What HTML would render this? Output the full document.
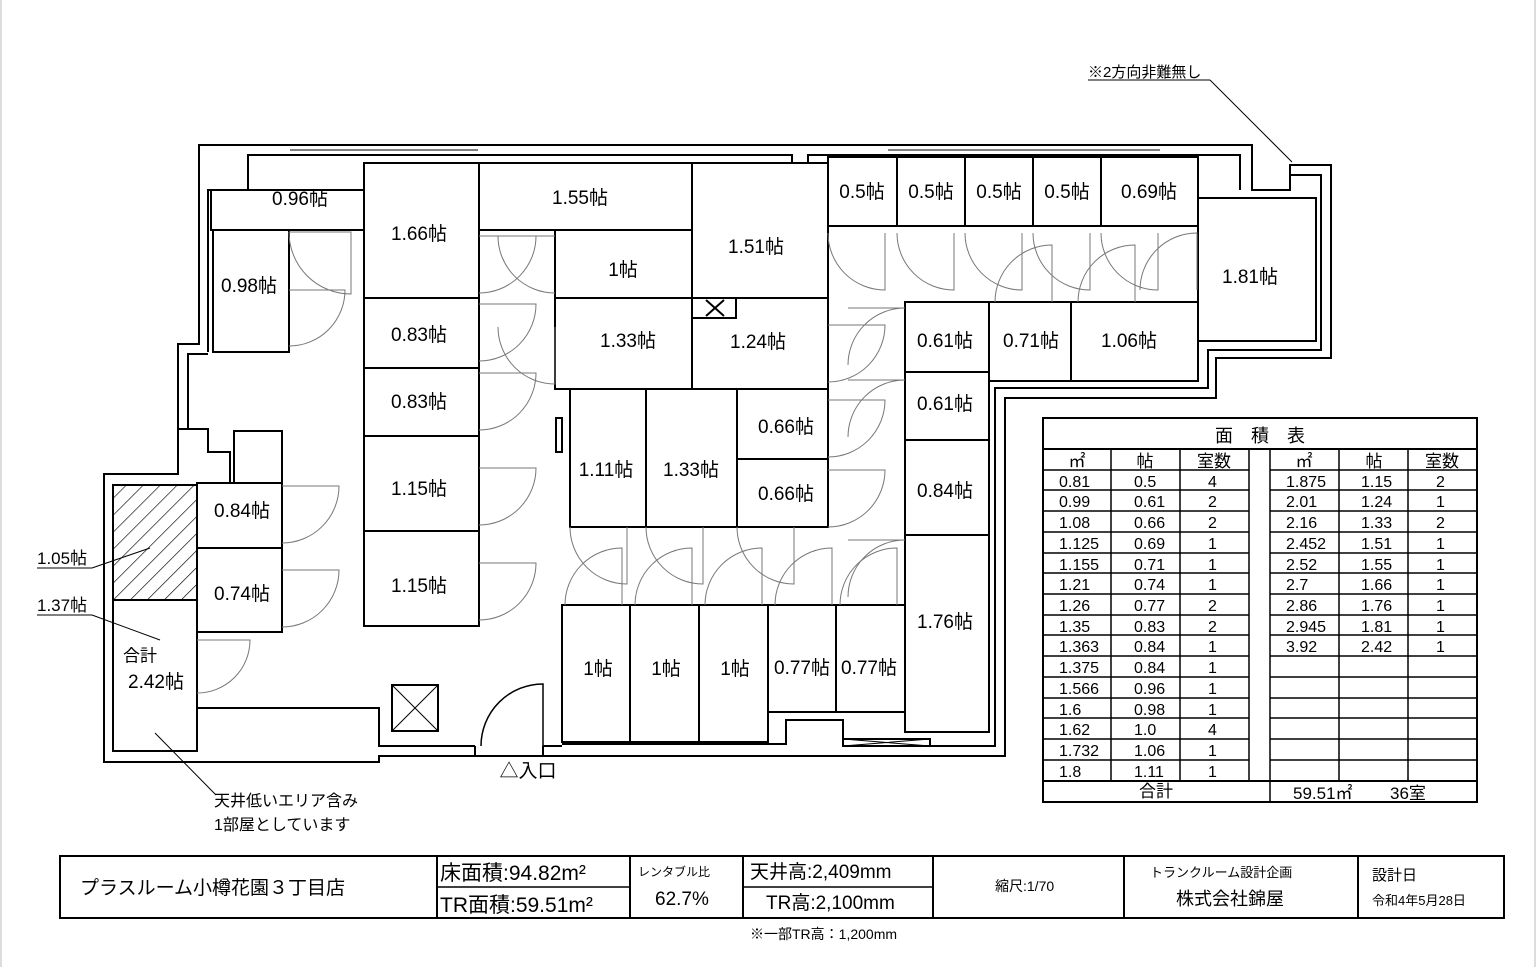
<!DOCTYPE html>
<html><head><meta charset="utf-8"><style>
html,body{margin:0;padding:0;background:#fff;}
svg{display:block;}
text{font-family:"Liberation Sans","Noto Sans CJK JP",sans-serif;fill:#000;}
.r{fill:#fff;stroke:#000;stroke-width:2;}
.w{fill:none;stroke:#000;stroke-width:2;}
.d{fill:none;stroke:#777;stroke-width:1;}
.t{font-size:19px;text-anchor:middle;dominant-baseline:middle;}
.s{font-size:16px;}
</style></head><body>
<svg width="1536" height="967" viewBox="0 0 1536 967" xmlns="http://www.w3.org/2000/svg">
<rect x="0" y="0" width="1536" height="967" fill="#fff"/>
<line x1="1" y1="0" x2="1" y2="967" stroke="#bbb"/>
<line x1="1535" y1="0" x2="1535" y2="967" stroke="#bbb"/>

<!-- outer walls -->
<path class="w" d="M199,145 L1252,145 L1252,190 L1290,190 L1290,165 L1331,165 L1331,358 L1216,358 L1216,398 L1005,398 L1005,756 L379,756 L379,762 L104,762 L104,474 L178,474 L178,344 L199,344 Z"/>
<path class="w" d="M208,352 L208,190 L248,190 L248,155 L792,155 L792,190 L808,190 L808,155 L1240,155 L1240,190"/>
<path class="w" d="M1290,175 L1321,175 L1321,350 L1208,350 L1208,388 L995,388 L995,746 L843,746 L843,720 L786,720 L786,744 L562,744"/>
<path class="w" d="M208,354 L188,354 L188,429"/>
<path class="w" d="M178,429 L208,429 L208,452 L230,452 L230,484 L197,484"/>
<path class="w" d="M234,488 L234,431 L282,431 L282,483"/>
<path class="w" d="M197,708 L379,708 L379,746 L475,746 M543,746 L562,746"/>
<path class="w" d="M475,746 L475,756 M543,746 L543,756" stroke-width="1.5"/>
<line x1="290" y1="150" x2="478" y2="150" stroke="#000"/>
<line x1="888" y1="150" x2="1160" y2="150" stroke="#000"/>

<!-- rooms -->
<rect class="r" x="211" y="190" width="153" height="40"/>
<rect class="r" x="213" y="230" width="76" height="122"/>
<rect class="r" x="364" y="163" width="115" height="135"/>
<rect class="r" x="479" y="163" width="213" height="67"/>
<rect class="r" x="555" y="230" width="137" height="68"/>
<rect class="r" x="692" y="163" width="136" height="135"/>
<rect class="r" x="364" y="298" width="115" height="70"/>
<rect class="r" x="364" y="368" width="115" height="68"/>
<rect class="r" x="364" y="436" width="115" height="95"/>
<rect class="r" x="364" y="531" width="115" height="95"/>
<rect class="r" x="555" y="298" width="137" height="91"/>
<rect class="r" x="692" y="298" width="136" height="91"/>
<rect class="r" x="692" y="298" width="44" height="20"/>
<path class="w" d="M706,300 L724,316 M724,300 L706,316" stroke-width="1"/>
<rect class="r" x="570" y="389" width="76" height="138"/>
<rect class="r" x="646" y="389" width="91" height="138"/>
<rect class="r" x="737" y="389" width="91" height="70"/>
<rect class="r" x="737" y="459" width="91" height="68"/>
<rect class="r" x="556" y="418" width="6" height="34"/>
<rect class="r" x="828" y="157" width="69" height="69"/>
<rect class="r" x="897" y="157" width="68" height="69"/>
<rect class="r" x="965" y="157" width="68" height="69"/>
<rect class="r" x="1033" y="157" width="68" height="69"/>
<rect class="r" x="1101" y="157" width="97" height="69"/>
<rect class="r" x="1198" y="198" width="118" height="143"/>
<rect class="r" x="905" y="302" width="84" height="70"/>
<rect class="r" x="989" y="302" width="82" height="79"/>
<rect class="r" x="1071" y="302" width="127" height="79"/>
<rect class="r" x="905" y="372" width="84" height="68"/>
<rect class="r" x="905" y="440" width="84" height="95"/>
<rect class="r" x="905" y="535" width="84" height="197"/>
<rect class="r" x="562" y="605" width="68" height="137"/>
<rect class="r" x="630" y="605" width="69" height="137"/>
<rect class="r" x="699" y="605" width="69" height="137"/>
<rect class="r" x="768" y="605" width="68" height="107"/>
<rect class="r" x="836" y="605" width="69" height="107"/>
<rect class="r" x="197" y="483" width="85" height="65"/>
<rect class="r" x="197" y="548" width="85" height="84"/>
<rect class="r" x="113" y="600" width="84" height="151"/>
<defs><pattern id="h" width="12" height="12" patternUnits="userSpaceOnUse" patternTransform="rotate(45)"><line x1="0" y1="0" x2="0" y2="12" stroke="#000" stroke-width="1.3"/></pattern></defs>
<rect x="113" y="485" width="84" height="115" fill="url(#h)" stroke="#000" stroke-width="2"/>
<rect class="r" x="392" y="685" width="46" height="46"/>
<path d="M392,685 L438,731 M438,685 L392,731" stroke="#000" stroke-width="1"/>
<rect class="r" x="843" y="739" width="87" height="7"/>
<path d="M843,739 L930,746 M930,739 L843,746" stroke="#000" stroke-width="1"/>

<!-- doors -->
<g class="d">
<path d="M289,232 L351,232 L351,294 A62,62 0 0 1 289,232"/>
<path d="M289,290 L345,290 A56,56 0 0 1 289,346"/>
<path d="M479,293 A57,57 0 0 0 536,236 L479,236"/>
<path d="M555,293 A57,57 0 0 1 498,236 L555,236"/>
<path d="M479,304 L536,304 A57,57 0 0 1 479,361"/>
<path d="M479,373 L536,373 A57,57 0 0 1 479,430"/>
<path d="M479,468 L536,468 A57,57 0 0 1 479,525"/>
<path d="M479,563 L536,563 A57,57 0 0 1 479,620"/>
<path d="M498,327 A57,57 0 0 0 555,384 L555,327"/>
<path d="M282,486 L339,486 A57,57 0 0 1 282,543"/>
<path d="M282,570 L339,570 A57,57 0 0 1 282,627"/>
<path d="M197,640 L250,640 A53,53 0 0 1 197,693"/>
<path d="M828,233 A57,57 0 0 0 885,290 L885,233"/>
<path d="M897,233 A57,57 0 0 0 954,290 L954,233"/>
<path d="M965,233 A57,57 0 0 0 1022,290 L1022,233"/>
<path d="M1033,233 A57,57 0 0 0 1090,290 L1090,233"/>
<path d="M1101,233 A57,57 0 0 0 1158,290 L1158,233"/>
<path d="M995,302 A57,57 0 0 1 1052,245 L1052,302"/>
<path d="M1078,302 A57,57 0 0 1 1135,245 L1135,302"/>
<path d="M1140,290 A57,57 0 0 1 1197,233 L1197,290"/>
<path d="M848,308 L905,308 A57,57 0 0 0 848,365"/>
<path d="M828,325 L885,325 A57,57 0 0 1 828,382"/>
<path d="M828,400 L885,400 A57,57 0 0 1 828,457"/>
<path d="M848,380 L905,380 A57,57 0 0 0 848,437"/>
<path d="M828,470 L885,470 A57,57 0 0 1 828,527"/>
<path d="M848,540 L905,540 A57,57 0 0 0 848,597"/>
<path d="M570,527 A57,57 0 0 0 627,584 L627,527"/>
<path d="M565,605 A57,57 0 0 1 622,548 L622,605"/>
<path d="M646,527 A57,57 0 0 0 703,584 L703,527"/>
<path d="M635,605 A57,57 0 0 1 692,548 L692,605"/>
<path d="M737,527 A57,57 0 0 0 794,584 L794,527"/>
<path d="M705,605 A57,57 0 0 1 762,548 L762,605"/>
<path d="M775,605 A57,57 0 0 1 832,548 L832,605"/>
<path d="M840,605 A57,57 0 0 1 897,548 L897,605"/>
<path d="M481,746 A62,62 0 0 1 543,684 L543,746" stroke="#000" stroke-width="1.5"/>
</g>

<!-- room labels -->
<g class="t">
<text x="300" y="200">0.96帖</text>
<text x="249" y="287">0.98帖</text>
<text x="419" y="235">1.66帖</text>
<text x="580" y="199">1.55帖</text>
<text x="623" y="271">1帖</text>
<text x="756" y="248">1.51帖</text>
<text x="419" y="336">0.83帖</text>
<text x="419" y="403">0.83帖</text>
<text x="419" y="490">1.15帖</text>
<text x="419" y="587">1.15帖</text>
<text x="628" y="342">1.33帖</text>
<text x="758" y="343">1.24帖</text>
<text x="606" y="471">1.11帖</text>
<text x="691" y="471">1.33帖</text>
<text x="786" y="428">0.66帖</text>
<text x="786" y="495">0.66帖</text>
<text x="862" y="193">0.5帖</text>
<text x="931" y="193">0.5帖</text>
<text x="999" y="193">0.5帖</text>
<text x="1067" y="193">0.5帖</text>
<text x="1149" y="193">0.69帖</text>
<text x="1250" y="278">1.81帖</text>
<text x="945" y="342">0.61帖</text>
<text x="1031" y="342">0.71帖</text>
<text x="1129" y="342">1.06帖</text>
<text x="945" y="405">0.61帖</text>
<text x="945" y="492">0.84帖</text>
<text x="945" y="623">1.76帖</text>
<text x="598" y="670">1帖</text>
<text x="666" y="670">1帖</text>
<text x="735" y="670">1帖</text>
<text x="802" y="669">0.77帖</text>
<text x="869" y="669">0.77帖</text>
<text x="242" y="512">0.84帖</text>
<text x="242" y="595">0.74帖</text>
<text x="140" y="657" style="font-size:17px">合計</text>
<text x="156" y="683">2.42帖</text>
<text x="528" y="772">△入口</text>
</g>

<!-- annotations -->
<text x="37" y="564" font-size="17">1.05帖</text>
<line x1="37" y1="568" x2="92" y2="568" stroke="#000"/>
<line x1="92" y1="568" x2="150" y2="548" stroke="#000"/>
<text x="37" y="611" font-size="17">1.37帖</text>
<line x1="37" y1="615" x2="92" y2="615" stroke="#000"/>
<line x1="92" y1="615" x2="160" y2="640" stroke="#000"/>
<line x1="155" y1="733" x2="216" y2="795" stroke="#000"/>
<text x="214" y="806" class="s">天井低いエリア含み</text>
<text x="214" y="830" class="s">1部屋としています</text>
<text x="1088" y="77" font-size="15">※2方向非難無し</text>
<line x1="1088" y1="80" x2="1210" y2="80" stroke="#000"/>
<line x1="1210" y1="80" x2="1292" y2="162" stroke="#000"/>

<!-- area table -->
<g stroke="#000" fill="none">
<rect x="1043" y="418" width="434" height="384" stroke-width="2"/>
<line x1="1043" y1="449" x2="1477" y2="449" stroke-width="2"/>
<line x1="1043" y1="781" x2="1477" y2="781" stroke-width="2"/>
<line x1="1111" y1="449" x2="1111" y2="781" stroke-width="1.5"/>
<line x1="1180" y1="449" x2="1180" y2="781" stroke-width="1.5"/>
<line x1="1249" y1="449" x2="1249" y2="781" stroke-width="1.5"/>
<line x1="1270" y1="449" x2="1270" y2="802" stroke-width="1.5"/>
<line x1="1339" y1="449" x2="1339" y2="781" stroke-width="1.5"/>
<line x1="1408" y1="449" x2="1408" y2="781" stroke-width="1.5"/>
<path stroke-width="1.5" d="M1043,470H1249M1270,470H1477M1043,490H1249M1270,490H1477M1043,511H1249M1270,511H1477M1043,532H1249M1270,532H1477M1043,553H1249M1270,553H1477M1043,573H1249M1270,573H1477M1043,594H1249M1270,594H1477M1043,615H1249M1270,615H1477M1043,635H1249M1270,635H1477M1043,656H1249M1270,656H1477M1043,677H1249M1270,677H1477M1043,698H1249M1270,698H1477M1043,718H1249M1270,718H1477M1043,739H1249M1270,739H1477M1043,760H1249M1270,760H1477"/>
</g>
<g font-size="17">
<text x="1260" y="442" text-anchor="middle" font-size="18">面　積　表</text>
<text x="1077" y="467" text-anchor="middle">㎡</text><text x="1145" y="467" text-anchor="middle">帖</text><text x="1214" y="467" text-anchor="middle">室数</text>
<text x="1304" y="467" text-anchor="middle">㎡</text><text x="1374" y="467" text-anchor="middle">帖</text><text x="1442" y="467" text-anchor="middle">室数</text>
</g>
<g font-size="16">
<text x="1059" y="487">0.81</text><text x="1134" y="487">0.5</text><text x="1208" y="487">4</text>
<text x="1059" y="507">0.99</text><text x="1134" y="507">0.61</text><text x="1208" y="507">2</text>
<text x="1059" y="528">1.08</text><text x="1134" y="528">0.66</text><text x="1208" y="528">2</text>
<text x="1059" y="549">1.125</text><text x="1134" y="549">0.69</text><text x="1208" y="549">1</text>
<text x="1059" y="570">1.155</text><text x="1134" y="570">0.71</text><text x="1208" y="570">1</text>
<text x="1059" y="590">1.21</text><text x="1134" y="590">0.74</text><text x="1208" y="590">1</text>
<text x="1059" y="611">1.26</text><text x="1134" y="611">0.77</text><text x="1208" y="611">2</text>
<text x="1059" y="632">1.35</text><text x="1134" y="632">0.83</text><text x="1208" y="632">2</text>
<text x="1059" y="652">1.363</text><text x="1134" y="652">0.84</text><text x="1208" y="652">1</text>
<text x="1059" y="673">1.375</text><text x="1134" y="673">0.84</text><text x="1208" y="673">1</text>
<text x="1059" y="694">1.566</text><text x="1134" y="694">0.96</text><text x="1208" y="694">1</text>
<text x="1059" y="715">1.6</text><text x="1134" y="715">0.98</text><text x="1208" y="715">1</text>
<text x="1059" y="735">1.62</text><text x="1134" y="735">1.0</text><text x="1208" y="735">4</text>
<text x="1059" y="756">1.732</text><text x="1134" y="756">1.06</text><text x="1208" y="756">1</text>
<text x="1059" y="777">1.8</text><text x="1134" y="777">1.11</text><text x="1208" y="777">1</text>
<text x="1286" y="487">1.875</text><text x="1361" y="487">1.15</text><text x="1436" y="487">2</text>
<text x="1286" y="507">2.01</text><text x="1361" y="507">1.24</text><text x="1436" y="507">1</text>
<text x="1286" y="528">2.16</text><text x="1361" y="528">1.33</text><text x="1436" y="528">2</text>
<text x="1286" y="549">2.452</text><text x="1361" y="549">1.51</text><text x="1436" y="549">1</text>
<text x="1286" y="570">2.52</text><text x="1361" y="570">1.55</text><text x="1436" y="570">1</text>
<text x="1286" y="590">2.7</text><text x="1361" y="590">1.66</text><text x="1436" y="590">1</text>
<text x="1286" y="611">2.86</text><text x="1361" y="611">1.76</text><text x="1436" y="611">1</text>
<text x="1286" y="632">2.945</text><text x="1361" y="632">1.81</text><text x="1436" y="632">1</text>
<text x="1286" y="652">3.92</text><text x="1361" y="652">2.42</text><text x="1436" y="652">1</text>
<text x="1156" y="797" text-anchor="middle" font-size="17">合計</text>
<text x="1293" y="799" font-size="17">59.51㎡</text><text x="1390" y="799" font-size="17">36室</text>
</g>

<!-- title block -->
<g stroke="#000" stroke-width="2" fill="none">
<rect x="60" y="856" width="1444" height="62"/>
<line x1="437" y1="856" x2="437" y2="918"/>
<line x1="630" y1="856" x2="630" y2="918"/>
<line x1="743" y1="856" x2="743" y2="918"/>
<line x1="933" y1="856" x2="933" y2="918"/>
<line x1="1124" y1="856" x2="1124" y2="918"/>
<line x1="1358" y1="856" x2="1358" y2="918"/>
<line x1="437" y1="887" x2="630" y2="887" stroke-width="1.5"/>
<line x1="743" y1="887" x2="933" y2="887" stroke-width="1.5"/>
</g>
<text x="80" y="894" font-size="19">プラスルーム小樽花園３丁目店</text>
<text x="440" y="880" font-size="21">床面積:94.82m²</text>
<text x="440" y="912" font-size="21">TR面積:59.51m²</text>
<text x="638" y="876" font-size="12">レンタブル比</text>
<text x="655" y="905" font-size="19">62.7%</text>
<text x="750" y="878" font-size="19">天井高:2,409mm</text>
<text x="766" y="909" font-size="19">TR高:2,100mm</text>
<text x="995" y="891" font-size="14">縮尺:1/70</text>
<text x="1150" y="877" font-size="13">トランクルーム設計企画</text>
<text x="1176" y="905" font-size="18">株式会社錦屋</text>
<text x="1372" y="880" font-size="15">設計日</text>
<text x="1372" y="905" font-size="13">令和4年5月28日</text>
<text x="750" y="939" font-size="14">※一部TR高：1,200mm</text>
</svg>
</body></html>
